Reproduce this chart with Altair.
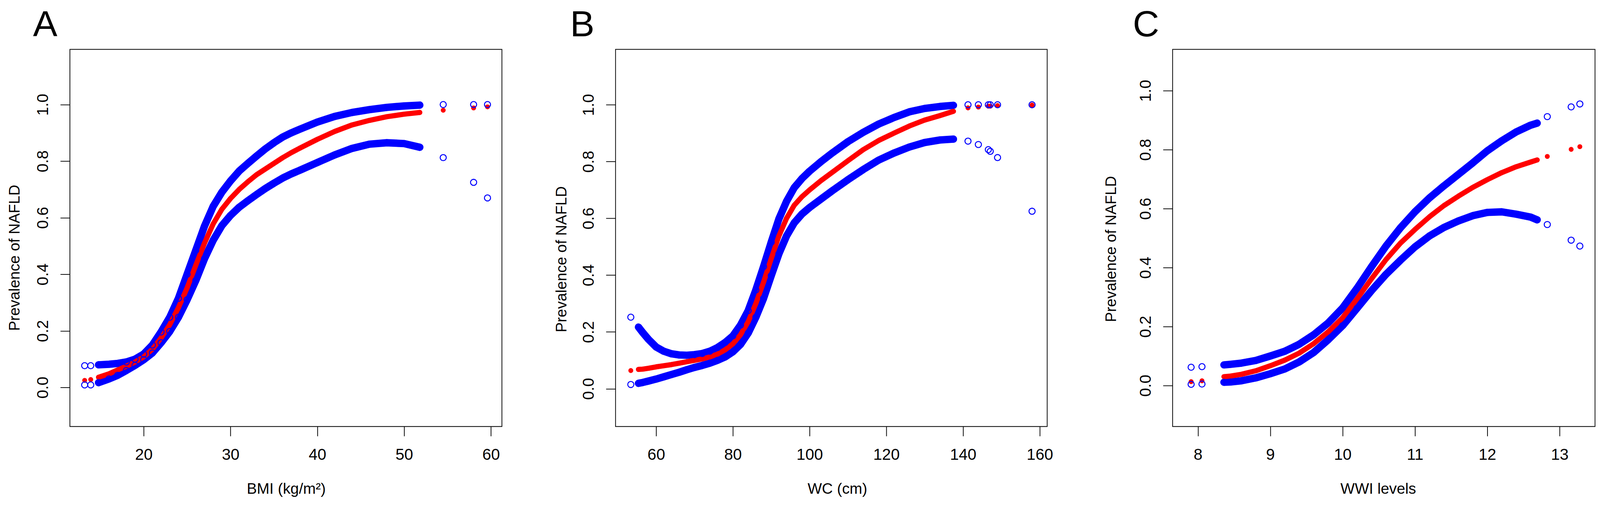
import altair as alt
import pandas as pd

FONT = "Liberation Sans"
BLUE = "#0000ff"
RED = "#ff0000"

# ---------------- Panel A : BMI ----------------
A_x = [14.8, 16, 17, 18, 19, 20, 21, 22, 23, 24, 25, 26, 27, 28, 29, 30, 31, 32, 33, 34,
       35, 36, 37, 38, 40, 42, 44, 46, 48, 50, 51.8]
A_upper = [0.080, 0.082, 0.085, 0.090, 0.100, 0.118, 0.150, 0.196, 0.248, 0.315, 0.400, 0.485,
           0.570, 0.640, 0.690, 0.730, 0.765, 0.792, 0.818, 0.843, 0.865, 0.885, 0.900, 0.913,
           0.938, 0.958, 0.972, 0.982, 0.990, 0.995, 0.998]
A_fit = [0.036, 0.048, 0.062, 0.075, 0.090, 0.108, 0.135, 0.175, 0.222, 0.282, 0.352, 0.432,
         0.510, 0.578, 0.630, 0.668, 0.700, 0.727, 0.752, 0.772, 0.792, 0.812, 0.830, 0.846,
         0.877, 0.905, 0.928, 0.944, 0.957, 0.966, 0.972]
A_lower = [0.017, 0.030, 0.043, 0.060, 0.078, 0.098, 0.122, 0.158, 0.198, 0.248, 0.310, 0.378,
           0.455, 0.520, 0.572, 0.608, 0.637, 0.660, 0.682, 0.703, 0.722, 0.740, 0.755, 0.768,
           0.795, 0.822, 0.845, 0.860, 0.865, 0.862, 0.849]
A_iso_x = [13.2, 13.9, 54.5, 58.0, 59.6]
A_iso_upper = [0.077, 0.077, 1.0, 1.0, 1.0]
A_iso_fit = [0.025, 0.028, 0.980, 0.988, 0.992]
A_iso_lower = [0.009, 0.009, 0.8125, 0.725, 0.67]
A_ticks = [20, 30, 40, 50, 60]

# ---------------- Panel B : WC ----------------
B_x = [55.4, 56.5, 58, 60, 62, 64, 66, 68, 70, 72, 74, 76, 78, 80, 82, 84, 86, 88, 90, 92,
       94, 96, 98, 100, 103, 106, 110, 114, 118, 122, 126, 130, 134, 137.5]
B_upper = [0.217, 0.198, 0.174, 0.147, 0.132, 0.123, 0.119, 0.118, 0.120, 0.124, 0.132, 0.145,
           0.163, 0.186, 0.224, 0.275, 0.348, 0.430, 0.516, 0.598, 0.660, 0.708, 0.740, 0.766,
           0.800, 0.831, 0.870, 0.903, 0.932, 0.955, 0.975, 0.987, 0.994, 0.998]
B_fit = [0.068, 0.069, 0.072, 0.077, 0.081, 0.085, 0.090, 0.095, 0.100, 0.105, 0.112, 0.122,
         0.137, 0.158, 0.190, 0.236, 0.300, 0.375, 0.458, 0.538, 0.600, 0.646, 0.676, 0.700,
         0.733, 0.763, 0.803, 0.842, 0.874, 0.900, 0.925, 0.946, 0.962, 0.977]
B_lower = [0.019, 0.022, 0.027, 0.034, 0.042, 0.050, 0.058, 0.067, 0.075, 0.082, 0.090, 0.100,
           0.112, 0.130, 0.156, 0.196, 0.252, 0.318, 0.398, 0.475, 0.538, 0.584, 0.615, 0.638,
           0.668, 0.698, 0.736, 0.772, 0.805, 0.830, 0.851, 0.867, 0.876, 0.879]
B_iso_x = [53.4, 141.3, 144.0, 146.6, 147.1, 149.0, 158.0]
B_iso_upper = [0.252, 1.0, 1.0, 1.0, 1.0, 1.0, 1.0]
B_iso_fit = [0.064, 0.989, 0.992, 0.995, 0.995, 0.997, 0.999]
B_iso_lower = [0.015, 0.872, 0.860, 0.842, 0.836, 0.814, 0.625]
B_ticks = [60, 80, 100, 120, 140, 160]

# ---------------- Panel C : WWI ----------------
C_x = [8.36, 8.45, 8.6, 8.8, 9.0, 9.2, 9.4, 9.6, 9.8, 10.0, 10.2, 10.4, 10.6, 10.8, 11.0,
       11.2, 11.4, 11.6, 11.8, 12.0, 12.2, 12.4, 12.6, 12.69]
C_upper = [0.070, 0.072, 0.076, 0.085, 0.100, 0.116, 0.140, 0.172, 0.212, 0.263, 0.330, 0.403,
           0.473, 0.535, 0.589, 0.636, 0.677, 0.716, 0.755, 0.796, 0.830, 0.860, 0.883, 0.890]
C_fit = [0.030, 0.032, 0.038, 0.050, 0.067, 0.086, 0.110, 0.142, 0.182, 0.230, 0.294, 0.362,
         0.427, 0.483, 0.529, 0.572, 0.610, 0.642, 0.672, 0.698, 0.722, 0.742, 0.758, 0.765]
C_lower = [0.011, 0.012, 0.016, 0.026, 0.040, 0.056, 0.080, 0.112, 0.155, 0.203, 0.262, 0.322,
           0.377, 0.425, 0.470, 0.507, 0.536, 0.558, 0.576, 0.587, 0.589, 0.581, 0.571, 0.562]
C_iso_x = [7.906, 8.056, 12.83, 13.16, 13.28]
C_iso_upper = [0.062, 0.064, 0.912, 0.945, 0.955]
C_iso_fit = [0.013, 0.016, 0.777, 0.801, 0.810]
C_iso_lower = [0.004, 0.005, 0.546, 0.493, 0.473]
C_ticks = [8, 9, 10, 11, 12, 13]

Y_TICKS = [0.0, 0.2, 0.4, 0.6, 0.8, 1.0]
Y_TITLE = "Prevalence of NAFLD"


def long_df(x, up, fit, lo):
    rows = []
    for s, vals in (("upper", up), ("lower", lo), ("fit", fit)):
        for xi, vi in zip(x, vals):
            rows.append({"x": xi, "v": vi, "s": s})
    return pd.DataFrame(rows)


def panel(main, iso, xdom, ydom, xticks, xtitle, letter, letter_dx, width,
          ytitle_pad, ytitle_y, xtitle_x):
    main_df = long_df(*main)
    all_df = pd.concat([main_df, long_df(*iso)], ignore_index=True)
    x_enc = alt.X("x:Q", scale=alt.Scale(domain=xdom, nice=False, zero=False),
                  axis=alt.Axis(values=xticks, format="d", title=xtitle, titleX=xtitle_x))
    y_enc = alt.Y("v:Q", scale=alt.Scale(domain=ydom, nice=False, zero=False),
                  axis=alt.Axis(values=Y_TICKS, format=".1f", title=Y_TITLE,
                                labelAngle=270, labelAlign="center", labelBaseline="bottom",
                                titlePadding=ytitle_pad, titleY=ytitle_y))
    blue_line = alt.Chart(main_df).transform_filter(alt.datum.s != "fit").mark_line(
        color=BLUE, strokeWidth=20, strokeCap="round", strokeJoin="round"
    ).encode(x=x_enc, y=y_enc, detail="s:N", order="x:Q")
    red_line = alt.Chart(main_df).transform_filter(alt.datum.s == "fit").mark_line(
        color=RED, strokeWidth=14, strokeCap="round", strokeJoin="round"
    ).encode(x=x_enc, y=y_enc, order="x:Q")
    red_pts = alt.Chart(all_df).transform_filter(alt.datum.s == "fit").mark_point(
        shape="circle", filled=True, color=RED, size=177, opacity=1, strokeWidth=0
    ).encode(x=x_enc, y=y_enc)
    blue_pts = alt.Chart(all_df).transform_filter(alt.datum.s != "fit").mark_point(
        shape="circle", filled=False, color=BLUE, size=275, strokeWidth=2.7, opacity=1
    ).encode(x=x_enc, y=y_enc)
    # panel letter, placed above the top-left corner of the plot frame
    tag = alt.Chart(pd.DataFrame({"t": [letter]})).mark_text(
        font=FONT, fontSize=99, color="black", align="left", baseline="alphabetic"
    ).encode(text="t:N", x=alt.value(letter_dx), y=alt.value(-36))
    return alt.layer(blue_line, red_line, red_pts, blue_pts, tag).properties(
        width=width, height=1023,
    )


pA = panel((A_x, A_upper, A_fit, A_lower), (A_iso_x, A_iso_upper, A_iso_fit, A_iso_lower),
           [11.50, 61.26], [-0.138, 1.195], A_ticks, "BMI (kg/m\u00b2)", "A", -100, 1171,
           38, 565, 586)
pB = panel((B_x, B_upper, B_fit, B_lower), (B_iso_x, B_iso_upper, B_iso_fit, B_iso_lower),
           [49.42, 161.94], [-0.133, 1.195], B_ticks, "WC (cm)", "B", -123, 1170,
           35, 569, 601)
pC = panel((C_x, C_upper, C_fit, C_lower), (C_iso_x, C_iso_upper, C_iso_fit, C_iso_lower),
           [7.65, 13.49], [-0.139, 1.14], C_ticks, "WWI levels", "C", -108, 1145,
           55, 541, 557)

chart = alt.hconcat(
    pA,
    alt.hconcat(pB, pC, spacing=340, bounds="flush"),
    spacing=308, bounds="flush",
).properties(
    autosize=alt.AutoSizeParams(type="none"),
    padding={"left": 181, "top": 56, "right": 4139, "bottom": 1284},
).configure_view(
    stroke="black", strokeWidth=2
).configure_axis(
    labelFont=FONT, titleFont=FONT, labelFontSize=43, titleFontSize=41,
    labelColor="black", titleColor="black", tickColor="black", tickWidth=2,
    tickSize=26, domain=False, grid=False, titleFontWeight="normal",
    labelFlush=False, labelOverlap=False, labelBound=False,
).configure_axisX(
    labelPadding=30, titlePadding=50, minExtent=100, maxExtent=100,
    titleBaseline="top", labelAngle=0,
).configure_axisY(
    labelPadding=25, minExtent=90, maxExtent=90, titleBaseline="bottom",
    labelAngle=270, labelAlign="center", labelBaseline="bottom",
)

chart.save("out.html", embed_options={"renderer": "svg", "actions": False})
